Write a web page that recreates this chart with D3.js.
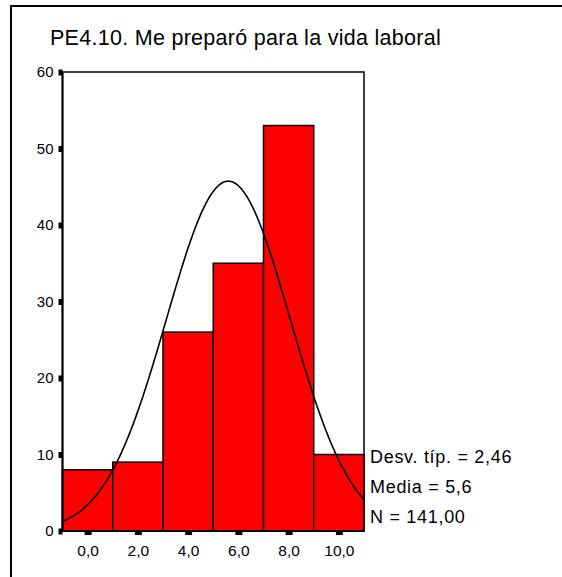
<!DOCTYPE html>
<html><head><meta charset="utf-8">
<script src="https://cdn.jsdelivr.net/npm/d3@7"></script>
<style>body{margin:0;background:#fff}svg{display:block;font-family:"Liberation Sans",Arial,sans-serif}</style>
</head><body><svg id="c" width="562" height="577"></svg>
<script>
const title = "PE4.10. Me preparó para la vida laboral";
const binCenters = [0, 2, 4, 6, 8, 10];
const counts = [8, 9, 26, 35, 53, 10];
const xTickLabels = ["0,0", "2,0", "4,0", "6,0", "8,0", "10,0"];
const yTicks = [0, 10, 20, 30, 40, 50, 60];
const stdDev = 2.46, mean = 5.6, nTotal = 141;
const statLabels = ["Desv. típ. = 2,46", "Media = 5,6", "N = 141,00"];
const binWidth = 2;

const svg = d3.select("#c");
svg.append("rect").attr("width",562).attr("height",577).attr("fill","#fff");
svg.append("rect").attr("x",11).attr("y",6).attr("width",570).attr("height",590)
  .attr("fill","none").attr("stroke","#000").attr("stroke-width",2);

const x = d3.scaleLinear().domain([-1, 11]).range([62.5, 364]);
const y = d3.scaleLinear().domain([0, 60]).range([531, 72]);

svg.append("text").attr("x",50).attr("y",45).attr("font-size",21.5).attr("letter-spacing",0.28).text(title);

// plot frame (top/right)
svg.append("rect").attr("x",x(-1)).attr("y",y(60)).attr("width",x(11)-x(-1)).attr("height",y(0)-y(60))
  .attr("fill","none").attr("stroke","#000").attr("stroke-width",1.5);

// bars
svg.selectAll("rect.bar").data(binCenters).join("rect").attr("class","bar")
  .attr("x",(d)=>x(d-binWidth/2)).attr("width",(d)=>x(d+binWidth/2)-x(d-binWidth/2))
  .attr("y",(d,i)=>y(counts[i])).attr("height",(d,i)=>y(0)-y(counts[i]))
  .attr("fill","#ff0000").attr("stroke","#000").attr("stroke-width",1.5);

// normal curve
const curvePts = d3.range(-1, 11.001, 0.05).map(v => [v, nTotal*binWidth/(stdDev*Math.sqrt(2*Math.PI))*Math.exp(-0.5*((v-mean)/stdDev)**2)]);
svg.append("path").datum(curvePts).attr("d", d3.line().x(d=>x(d[0])).y(d=>y(d[1])))
  .attr("fill","none").attr("stroke","#000").attr("stroke-width",1.6);

// axes
svg.append("line").attr("x1",x(-1)).attr("x2",x(-1)).attr("y1",y(60)).attr("y2",y(0)+1).attr("stroke","#000").attr("stroke-width",2);
svg.append("line").attr("x1",x(-1)).attr("x2",x(11)).attr("y1",y(0)).attr("y2",y(0)).attr("stroke","#000").attr("stroke-width",2);

const yAxis = d3.axisLeft(y).tickValues(yTicks).tickSize(0).tickPadding(9).tickFormat(d3.format("d"));
const gy = svg.append("g").attr("transform",`translate(${x(-1)},0)`).call(yAxis);
gy.attr("font-size",15).attr("font-family","Liberation Sans, Arial, sans-serif");
gy.select(".domain").remove();
gy.selectAll("text").style("font-size","15px").attr("fill","#000");
gy.selectAll(".tick").append("rect").attr("x",-4).attr("y",-3).attr("width",4).attr("height",6).attr("fill","#000");

const xAxis = d3.axisBottom(x).tickValues(binCenters).tickSize(0).tickPadding(14).tickFormat((d,i)=>xTickLabels[i]);
const gx = svg.append("g").attr("transform",`translate(0,${y(0)})`).call(xAxis);
gx.attr("font-size",15.5).attr("font-family","Liberation Sans, Arial, sans-serif");
gx.select(".domain").remove();
gx.selectAll("text").style("font-size","15.5px").attr("fill","#000");
gx.selectAll(".tick").append("rect").attr("x",-3.5).attr("y",1).attr("width",7).attr("height",3).attr("fill","#000");

svg.selectAll("text.stat").data(statLabels).join("text").attr("class","stat")
  .attr("x",370).attr("y",(d,i)=>463+i*30).attr("font-size",18).attr("letter-spacing",0.7).text(d=>d);
</script></body></html>
